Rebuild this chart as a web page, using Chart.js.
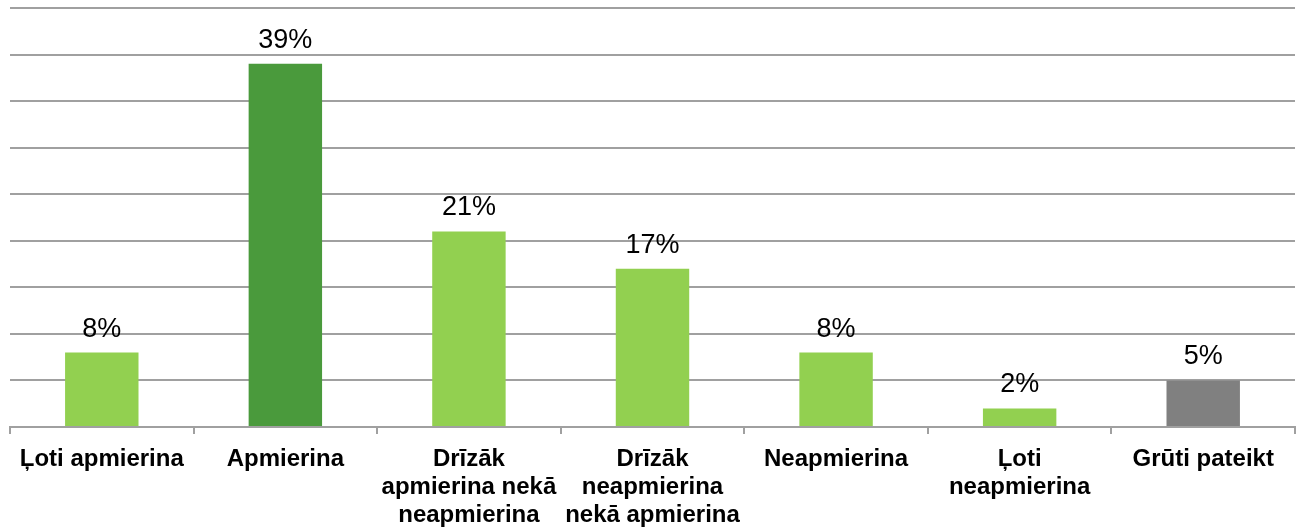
<!DOCTYPE html>
<html>
<head>
<meta charset="utf-8">
<script src="https://cdn.jsdelivr.net/npm/chart.js@4/dist/chart.umd.min.js"></script>
<style>
  html, body { margin: 0; padding: 0; background: #fff; }
  #wrap { width: 1298px; height: 527px; position: relative; }
</style>
</head>
<body>
<div id="wrap"><canvas id="chart"></canvas></div>
<script>
// dati no attēla
const categories = [
    'Ļoti apmierina',
    'Apmierina',
    ['Drīzāk', 'apmierina nekā', 'neapmierina'],
    ['Drīzāk', 'neapmierina', 'nekā apmierina'],
    'Neapmierina',
    ['Ļoti', 'neapmierina'],
    'Grūti pateikt'
];
const values = [8, 39, 21, 17, 8, 2, 5];
const barColors = ['#92D050', '#4A9A3C', '#92D050', '#92D050', '#92D050', '#92D050', '#808080'];

const FONT = '"Liberation Sans", Arial, sans-serif';

// vērtību uzraksti virs stabiņiem
const valueLabels = {
    id: 'valueLabels',
    afterDatasetsDraw(chart) {
        const ctx = chart.ctx;
        const meta = chart.getDatasetMeta(0);
        ctx.save();
        ctx.font = '27px ' + FONT;
        ctx.fillStyle = '#000';
        ctx.textAlign = 'center';
        ctx.textBaseline = 'alphabetic';
        meta.data.forEach((bar, i) => {
            ctx.fillText(values[i] + '%', bar.x, bar.y - 16);
        });
        ctx.restore();
    }
};

new Chart(document.getElementById('chart').getContext('2d'), {
    type: 'bar',
    data: {
        labels: categories,
        datasets: [{
            data: values,
            backgroundColor: barColors,
            borderWidth: 0,
            barPercentage: 0.4,
            categoryPercentage: 1
        }]
    },
    options: {
        responsive: true,
        maintainAspectRatio: false,
        animation: false,
        layout: { padding: { top: 8, left: 10, right: 3, bottom: 0 } },
        plugins: {
            legend: { display: false },
            title: { display: false },
            tooltip: { enabled: false }
        },
        scales: {
            x: {
                afterFit(scale) { scale.height = 100; },
                grid: {
                    offset: true,
                    drawOnChartArea: false,
                    drawTicks: true,
                    tickLength: 7,
                    color: '#a0a0a0',
                    lineWidth: 2
                },
                border: { display: true, color: '#a0a0a0', width: 2 },
                ticks: {
                    color: '#000',
                    padding: 11,
                    maxRotation: 0,
                    autoSkip: false,
                    font: { family: FONT, size: 24, weight: 'bold', lineHeight: 28 / 24 }
                }
            },
            y: {
                min: 0,
                max: 45,
                ticks: { display: false, stepSize: 5 },
                grid: { color: '#a0a0a0', lineWidth: 2, drawTicks: false },
                border: { display: false }
            }
        }
    },
    plugins: [valueLabels]
});
</script>
</body>
</html>
